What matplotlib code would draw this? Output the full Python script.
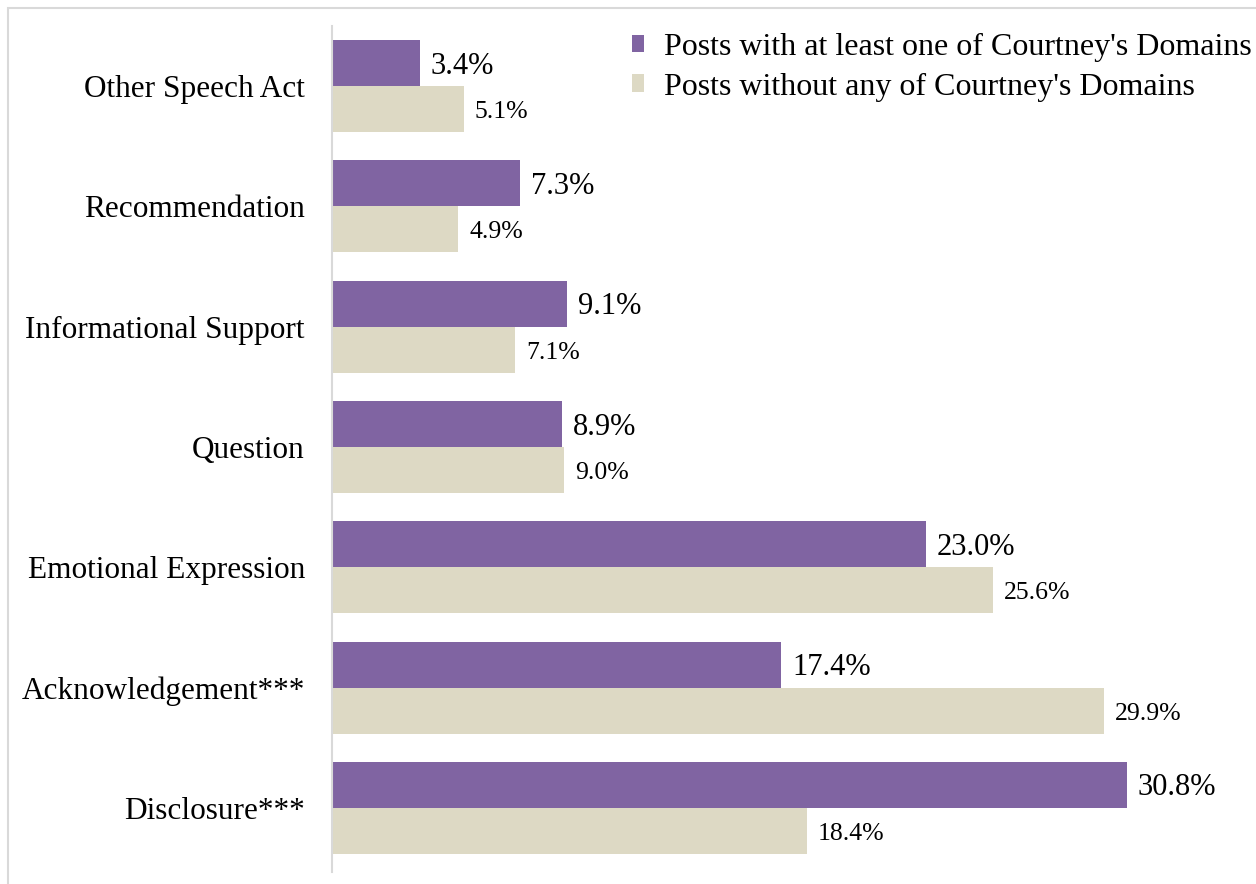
import matplotlib
matplotlib.use("Agg")
import matplotlib.pyplot as plt
from matplotlib.patches import Rectangle, Patch
import numpy as np

plt.rcParams['font.family'] = ['Liberation Serif', 'DejaVu Serif']

categories = ["Other Speech Act", "Recommendation", "Informational Support",
              "Question", "Emotional Expression", "Acknowledgement***", "Disclosure***"]
with_domains = [3.4, 7.3, 9.1, 8.9, 23.0, 17.4, 30.8]
without_domains = [5.1, 4.9, 7.1, 9.0, 25.6, 29.9, 18.4]
series_names = ["Posts with at least one of Courtney's Domains",
                "Posts without any of Courtney's Domains"]

PURPLE = "#8064A2"
BEIGE = "#DDD9C4"
GRID = "#D9D9D9"

W, H = 1256, 884
fig = plt.figure(figsize=(W / 100, H / 100), dpi=100)

# light frame around the chart area
fig.patches.append(Rectangle((7.5 / W, -0.5), 2.0, 1.5 - 7.5 / H,
                             transform=fig.transFigure, fill=False,
                             edgecolor=GRID, linewidth=1.5, zorder=0))

ax_left, ax_right = 332 / W, 1240 / W
ax_bottom, ax_top = 1 - 868 / H, 1 - 26 / H
ax = fig.add_axes([ax_left, ax_bottom, ax_right - ax_left, ax_top - ax_bottom])

n = len(categories)
pos = np.arange(n)[::-1]  # first category at top
bar_h = 0.382

px_per_unit = 25.81
ax.set_xlim(0, (1240 - 332) / px_per_unit)
ax.set_ylim(-0.5, n - 0.5)

ax.barh(pos + bar_h / 2, with_domains, height=bar_h, color=PURPLE, edgecolor='none')
ax.barh(pos - bar_h / 2, without_domains, height=bar_h, color=BEIGE, edgecolor='none')

off = 11 / px_per_unit
for y, v in zip(pos, with_domains):
    ax.text(v + off, y + bar_h / 2 - 0.025, f"{v:.1f}%", fontsize=22,
            va='center', ha='left', color='black')
for y, v in zip(pos, without_domains):
    ax.text(v + off, y - bar_h / 2 - 0.025, f"{v:.1f}%", fontsize=18.5,
            va='center', ha='left', color='black')

ax.set_yticks(pos)
ax.set_yticklabels(categories, fontsize=22.5)
ax.tick_params(axis='y', length=0, pad=19.5)
ax.set_xticks([])
for s in ['top', 'right', 'bottom']:
    ax.spines[s].set_visible(False)
ax.spines['left'].set_color(GRID)
ax.spines['left'].set_linewidth(1.5)
ax.spines['left'].set_bounds(-0.5 - 4 / 120.3, n - 0.5)

handles = [Patch(facecolor=PURPLE, edgecolor='none'),
           Patch(facecolor=BEIGE, edgecolor='none')]
fig.legend(handles, series_names, loc='upper right',
           bbox_to_anchor=(1252 / W, 1 - 33 / H),
           frameon=False, fontsize=23, handlelength=0.375,
           handleheight=0.47, handletextpad=0.62, labelspacing=0.33,
           borderpad=0, borderaxespad=0)

fig.savefig("out.png", dpi=100)
